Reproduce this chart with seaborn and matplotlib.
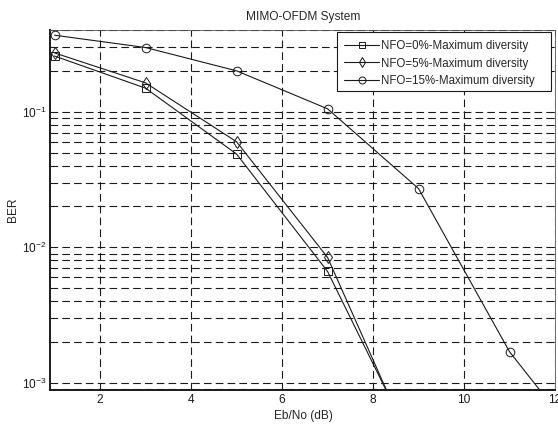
import numpy as np
import pandas as pd
import matplotlib
matplotlib.use("Agg")
import matplotlib.pyplot as plt
from matplotlib.patches import Rectangle
import seaborn as sns

# ---- data ----
ebno = [1, 3, 5, 7, 9]
ebno_15 = [1, 3, 5, 7, 9, 11, 13]
ber_nfo0 = [0.257, 0.149, 0.0487, 0.00664, 2.9e-4]
ber_nfo5 = [0.271, 0.163, 0.060, 0.00843, 2.6e-4]
ber_nfo15 = [0.366, 0.297, 0.200, 0.105, 0.0271, 0.00170, 2.4e-4]
labels = ["NFO=0%-Maximum diversity", "NFO=5%-Maximum diversity",
          "NFO=15%-Maximum diversity"]
markers = ["s", "d", "o"]
x_ticks = [2, 4, 6, 8, 10, 12]
title = "MIMO-OFDM System"
xlabel = "Eb/No (dB)"
ylabel = "BER"

FS = 8.6
LFS = 8.3
W, H = 558, 426

sns.set_theme(style="white")
plt.rcParams["font.family"] = ["Liberation Sans", "DejaVu Sans"]
plt.rcParams["mathtext.fontset"] = "custom"
plt.rcParams["mathtext.rm"] = "Liberation Sans"
plt.rcParams["lines.scale_dashes"] = False

fig = plt.figure(figsize=(W / 100, H / 100), dpi=100)
ax = fig.add_axes([0.0905, 0.0845, 0.9955 - 0.0905, 0.9296 - 0.0845])

series = [(ebno, ber_nfo0), (ebno, ber_nfo5), (ebno_15, ber_nfo15)]
for (xs, ys), lab, mk in zip(series, labels, markers):
    df = pd.DataFrame({"x": xs, "y": ys})
    sns.lineplot(data=df, x="x", y="y", ax=ax, color="k", lw=0.8,
                 marker=mk, label=lab)

for line in ax.lines:
    line.set_markerfacecolor("none")
    line.set_markeredgecolor("k")
    line.set_markeredgewidth(0.7)
    line.set_markersize(6.2)

ax.set_yscale("log")
ax.set_xlim(0.91, 12.01)
ax.set_ylim(8.88e-4, 0.40)
ax.set_xticks(x_ticks)
ax.set_xticklabels([str(t) for t in x_ticks])

ax.grid(True, which="major", axis="x", color="k", lw=0.8,
        linestyle=(0, (5.5, 3.0)))
ax.grid(True, which="both", axis="y", color="k", lw=0.8,
        linestyle=(0, (5.5, 3.0)))

ax.tick_params(which="both", direction="in", top=True, right=True,
               labelsize=FS, colors="k", pad=3)
ax.tick_params(which="major", length=4, width=0.6)
ax.tick_params(which="minor", length=2, width=0.5)

for s in ["left", "bottom"]:
    ax.spines[s].set_linewidth(1.4)
    ax.spines[s].set_color("k")
for s in ["top", "right"]:
    ax.spines[s].set_linewidth(0.6)
    ax.spines[s].set_color("#555555")

ax.set_title(title, fontsize=FS, pad=7.5)
ax.set_xlabel(xlabel, fontsize=FS, labelpad=3)
ax.set_ylabel(ylabel, fontsize=FS, labelpad=2)

# legend box (MATLAB style, extra right padding)
box = Rectangle((337 / W, 1 - 91.3 / H), 214 / W, 59.3 / H,
                transform=fig.transFigure, facecolor="white",
                edgecolor="k", lw=0.8, zorder=4.5, clip_on=False)
ax.add_patch(box)

leg = ax.legend(loc="upper left", fontsize=LFS, frameon=False,
                borderpad=0, labelspacing=0.48, handlelength=3.05,
                handletextpad=0.15, borderaxespad=0,
                bbox_to_anchor=(344 / W, 1 - 40.0 / H),
                bbox_transform=fig.transFigure)
leg.set_zorder(5)
for h in leg.legend_handles:
    h.set_markersize(5.0)
    h.set_markerfacecolor("none")
    h.set_markeredgecolor("k")

fig.savefig("out.png", dpi=100)
